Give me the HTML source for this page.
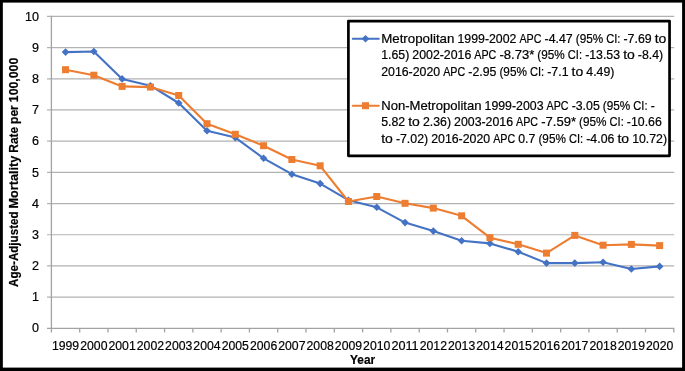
<!DOCTYPE html>
<html lang="en"><head><meta charset="utf-8"><title>Age-Adjusted Mortality Rate per 100,000 by Year</title>
<style>html,body{margin:0;padding:0;background:#fff}svg{display:block}text{stroke:#000;stroke-width:0.2px}</style></head>
<body>
<svg width="685" height="371" viewBox="0 0 685 371" font-family="'Liberation Sans', sans-serif" font-size="12.4" fill="#000">
<rect x="0" y="0" width="685" height="371" fill="#fff"/>
<line x1="47.00" y1="297.11" x2="674.20" y2="297.11" stroke="#b2b2b2" stroke-width="1.2"/>
<line x1="47.00" y1="265.92" x2="674.20" y2="265.92" stroke="#b2b2b2" stroke-width="1.2"/>
<line x1="47.00" y1="234.73" x2="674.20" y2="234.73" stroke="#b2b2b2" stroke-width="1.2"/>
<line x1="47.00" y1="203.54" x2="674.20" y2="203.54" stroke="#b2b2b2" stroke-width="1.2"/>
<line x1="47.00" y1="172.35" x2="674.20" y2="172.35" stroke="#b2b2b2" stroke-width="1.2"/>
<line x1="47.00" y1="141.16" x2="674.20" y2="141.16" stroke="#b2b2b2" stroke-width="1.2"/>
<line x1="47.00" y1="109.97" x2="674.20" y2="109.97" stroke="#b2b2b2" stroke-width="1.2"/>
<line x1="47.00" y1="78.78" x2="674.20" y2="78.78" stroke="#b2b2b2" stroke-width="1.2"/>
<line x1="47.00" y1="47.59" x2="674.20" y2="47.59" stroke="#b2b2b2" stroke-width="1.2"/>
<line x1="47.00" y1="16.40" x2="674.20" y2="16.40" stroke="#b2b2b2" stroke-width="1.2"/>
<line x1="47" y1="328.30" x2="674.2" y2="328.30" stroke="#a2a2a2" stroke-width="1.3"/>
<line x1="51.40" y1="15.80" x2="51.40" y2="332.4" stroke="#a2a2a2" stroke-width="1.3"/>
<line x1="79.69" y1="328.30" x2="79.69" y2="332.4" stroke="#a2a2a2" stroke-width="1.3"/>
<line x1="107.98" y1="328.30" x2="107.98" y2="332.4" stroke="#a2a2a2" stroke-width="1.3"/>
<line x1="136.27" y1="328.30" x2="136.27" y2="332.4" stroke="#a2a2a2" stroke-width="1.3"/>
<line x1="164.56" y1="328.30" x2="164.56" y2="332.4" stroke="#a2a2a2" stroke-width="1.3"/>
<line x1="192.85" y1="328.30" x2="192.85" y2="332.4" stroke="#a2a2a2" stroke-width="1.3"/>
<line x1="221.15" y1="328.30" x2="221.15" y2="332.4" stroke="#a2a2a2" stroke-width="1.3"/>
<line x1="249.44" y1="328.30" x2="249.44" y2="332.4" stroke="#a2a2a2" stroke-width="1.3"/>
<line x1="277.73" y1="328.30" x2="277.73" y2="332.4" stroke="#a2a2a2" stroke-width="1.3"/>
<line x1="306.02" y1="328.30" x2="306.02" y2="332.4" stroke="#a2a2a2" stroke-width="1.3"/>
<line x1="334.31" y1="328.30" x2="334.31" y2="332.4" stroke="#a2a2a2" stroke-width="1.3"/>
<line x1="362.60" y1="328.30" x2="362.60" y2="332.4" stroke="#a2a2a2" stroke-width="1.3"/>
<line x1="390.89" y1="328.30" x2="390.89" y2="332.4" stroke="#a2a2a2" stroke-width="1.3"/>
<line x1="419.18" y1="328.30" x2="419.18" y2="332.4" stroke="#a2a2a2" stroke-width="1.3"/>
<line x1="447.47" y1="328.30" x2="447.47" y2="332.4" stroke="#a2a2a2" stroke-width="1.3"/>
<line x1="475.76" y1="328.30" x2="475.76" y2="332.4" stroke="#a2a2a2" stroke-width="1.3"/>
<line x1="504.05" y1="328.30" x2="504.05" y2="332.4" stroke="#a2a2a2" stroke-width="1.3"/>
<line x1="532.35" y1="328.30" x2="532.35" y2="332.4" stroke="#a2a2a2" stroke-width="1.3"/>
<line x1="560.64" y1="328.30" x2="560.64" y2="332.4" stroke="#a2a2a2" stroke-width="1.3"/>
<line x1="588.93" y1="328.30" x2="588.93" y2="332.4" stroke="#a2a2a2" stroke-width="1.3"/>
<line x1="617.22" y1="328.30" x2="617.22" y2="332.4" stroke="#a2a2a2" stroke-width="1.3"/>
<line x1="645.51" y1="328.30" x2="645.51" y2="332.4" stroke="#a2a2a2" stroke-width="1.3"/>
<line x1="673.80" y1="328.30" x2="673.80" y2="332.4" stroke="#a2a2a2" stroke-width="1.3"/>
<polyline points="65.55,52.10 93.84,51.50 122.13,78.90 150.42,85.70 178.71,103.00 207.00,130.70 235.29,137.60 263.58,158.30 291.87,174.20 320.16,183.60 348.45,200.20 376.75,207.30 405.04,222.60 433.33,231.10 461.62,240.80 489.91,243.40 518.20,251.70 546.49,263.10 574.78,263.10 603.07,262.30 631.36,269.00 659.65,266.40" fill="none" stroke="#4472C4" stroke-width="2.1" stroke-linejoin="round" stroke-linecap="round"/>
<polygon points="65.55,48.30 69.35,52.10 65.55,55.90 61.75,52.10" fill="#4472C4"/>
<polygon points="93.84,47.70 97.64,51.50 93.84,55.30 90.04,51.50" fill="#4472C4"/>
<polygon points="122.13,75.10 125.93,78.90 122.13,82.70 118.33,78.90" fill="#4472C4"/>
<polygon points="150.42,81.90 154.22,85.70 150.42,89.50 146.62,85.70" fill="#4472C4"/>
<polygon points="178.71,99.20 182.51,103.00 178.71,106.80 174.91,103.00" fill="#4472C4"/>
<polygon points="207.00,126.90 210.80,130.70 207.00,134.50 203.20,130.70" fill="#4472C4"/>
<polygon points="235.29,133.80 239.09,137.60 235.29,141.40 231.49,137.60" fill="#4472C4"/>
<polygon points="263.58,154.50 267.38,158.30 263.58,162.10 259.78,158.30" fill="#4472C4"/>
<polygon points="291.87,170.40 295.67,174.20 291.87,178.00 288.07,174.20" fill="#4472C4"/>
<polygon points="320.16,179.80 323.96,183.60 320.16,187.40 316.36,183.60" fill="#4472C4"/>
<polygon points="348.45,196.40 352.25,200.20 348.45,204.00 344.65,200.20" fill="#4472C4"/>
<polygon points="376.75,203.50 380.55,207.30 376.75,211.10 372.95,207.30" fill="#4472C4"/>
<polygon points="405.04,218.80 408.84,222.60 405.04,226.40 401.24,222.60" fill="#4472C4"/>
<polygon points="433.33,227.30 437.13,231.10 433.33,234.90 429.53,231.10" fill="#4472C4"/>
<polygon points="461.62,237.00 465.42,240.80 461.62,244.60 457.82,240.80" fill="#4472C4"/>
<polygon points="489.91,239.60 493.71,243.40 489.91,247.20 486.11,243.40" fill="#4472C4"/>
<polygon points="518.20,247.90 522.00,251.70 518.20,255.50 514.40,251.70" fill="#4472C4"/>
<polygon points="546.49,259.30 550.29,263.10 546.49,266.90 542.69,263.10" fill="#4472C4"/>
<polygon points="574.78,259.30 578.58,263.10 574.78,266.90 570.98,263.10" fill="#4472C4"/>
<polygon points="603.07,258.50 606.87,262.30 603.07,266.10 599.27,262.30" fill="#4472C4"/>
<polygon points="631.36,265.20 635.16,269.00 631.36,272.80 627.56,269.00" fill="#4472C4"/>
<polygon points="659.65,262.60 663.45,266.40 659.65,270.20 655.85,266.40" fill="#4472C4"/>
<polyline points="65.55,69.70 93.84,75.20 122.13,86.40 150.42,87.10 178.71,95.50 207.00,123.70 235.29,134.30 263.58,145.70 291.87,159.50 320.16,165.80 348.45,201.50 376.75,196.50 405.04,203.30 433.33,208.10 461.62,215.80 489.91,237.70 518.20,244.30 546.49,253.10 574.78,235.40 603.07,245.20 631.36,244.40 659.65,245.60" fill="none" stroke="#ED7D31" stroke-width="2.1" stroke-linejoin="round" stroke-linecap="round"/>
<rect x="62.05" y="66.20" width="7.00" height="7.00" fill="#ED7D31"/>
<rect x="90.34" y="71.70" width="7.00" height="7.00" fill="#ED7D31"/>
<rect x="118.63" y="82.90" width="7.00" height="7.00" fill="#ED7D31"/>
<rect x="146.92" y="83.60" width="7.00" height="7.00" fill="#ED7D31"/>
<rect x="175.21" y="92.00" width="7.00" height="7.00" fill="#ED7D31"/>
<rect x="203.50" y="120.20" width="7.00" height="7.00" fill="#ED7D31"/>
<rect x="231.79" y="130.80" width="7.00" height="7.00" fill="#ED7D31"/>
<rect x="260.08" y="142.20" width="7.00" height="7.00" fill="#ED7D31"/>
<rect x="288.37" y="156.00" width="7.00" height="7.00" fill="#ED7D31"/>
<rect x="316.66" y="162.30" width="7.00" height="7.00" fill="#ED7D31"/>
<rect x="344.95" y="198.00" width="7.00" height="7.00" fill="#ED7D31"/>
<rect x="373.25" y="193.00" width="7.00" height="7.00" fill="#ED7D31"/>
<rect x="401.54" y="199.80" width="7.00" height="7.00" fill="#ED7D31"/>
<rect x="429.83" y="204.60" width="7.00" height="7.00" fill="#ED7D31"/>
<rect x="458.12" y="212.30" width="7.00" height="7.00" fill="#ED7D31"/>
<rect x="486.41" y="234.20" width="7.00" height="7.00" fill="#ED7D31"/>
<rect x="514.70" y="240.80" width="7.00" height="7.00" fill="#ED7D31"/>
<rect x="542.99" y="249.60" width="7.00" height="7.00" fill="#ED7D31"/>
<rect x="571.28" y="231.90" width="7.00" height="7.00" fill="#ED7D31"/>
<rect x="599.57" y="241.70" width="7.00" height="7.00" fill="#ED7D31"/>
<rect x="627.86" y="240.90" width="7.00" height="7.00" fill="#ED7D31"/>
<rect x="656.15" y="242.10" width="7.00" height="7.00" fill="#ED7D31"/>
<text x="32.01" y="332.00" font-size="12.8" textLength="6.99" lengthAdjust="spacingAndGlyphs">0</text>
<text x="32.01" y="301.00" font-size="12.8" textLength="6.99" lengthAdjust="spacingAndGlyphs">1</text>
<text x="32.01" y="270.00" font-size="12.8" textLength="6.99" lengthAdjust="spacingAndGlyphs">2</text>
<text x="32.01" y="239.00" font-size="12.8" textLength="6.99" lengthAdjust="spacingAndGlyphs">3</text>
<text x="32.01" y="208.00" font-size="12.8" textLength="6.99" lengthAdjust="spacingAndGlyphs">4</text>
<text x="32.01" y="177.00" font-size="12.8" textLength="6.99" lengthAdjust="spacingAndGlyphs">5</text>
<text x="32.01" y="145.00" font-size="12.8" textLength="6.99" lengthAdjust="spacingAndGlyphs">6</text>
<text x="32.01" y="114.00" font-size="12.8" textLength="6.99" lengthAdjust="spacingAndGlyphs">7</text>
<text x="32.01" y="83.00" font-size="12.8" textLength="6.99" lengthAdjust="spacingAndGlyphs">8</text>
<text x="32.01" y="52.00" font-size="12.8" textLength="6.99" lengthAdjust="spacingAndGlyphs">9</text>
<text x="25.01" y="21.00" font-size="12.8" textLength="13.99" lengthAdjust="spacingAndGlyphs">10</text>
<text x="51.91" y="349.9" font-size="13.2" textLength="27.27" lengthAdjust="spacingAndGlyphs">1999</text>
<text x="80.20" y="349.9" font-size="13.2" textLength="27.27" lengthAdjust="spacingAndGlyphs">2000</text>
<text x="108.49" y="349.9" font-size="13.2" textLength="27.27" lengthAdjust="spacingAndGlyphs">2001</text>
<text x="136.78" y="349.9" font-size="13.2" textLength="27.27" lengthAdjust="spacingAndGlyphs">2002</text>
<text x="165.08" y="349.9" font-size="13.2" textLength="27.27" lengthAdjust="spacingAndGlyphs">2003</text>
<text x="193.37" y="349.9" font-size="13.2" textLength="27.27" lengthAdjust="spacingAndGlyphs">2004</text>
<text x="221.66" y="349.9" font-size="13.2" textLength="27.27" lengthAdjust="spacingAndGlyphs">2005</text>
<text x="249.95" y="349.9" font-size="13.2" textLength="27.27" lengthAdjust="spacingAndGlyphs">2006</text>
<text x="278.24" y="349.9" font-size="13.2" textLength="27.27" lengthAdjust="spacingAndGlyphs">2007</text>
<text x="306.53" y="349.9" font-size="13.2" textLength="27.27" lengthAdjust="spacingAndGlyphs">2008</text>
<text x="334.82" y="349.9" font-size="13.2" textLength="27.27" lengthAdjust="spacingAndGlyphs">2009</text>
<text x="363.11" y="349.9" font-size="13.2" textLength="27.27" lengthAdjust="spacingAndGlyphs">2010</text>
<text x="391.40" y="349.9" font-size="13.2" textLength="27.27" lengthAdjust="spacingAndGlyphs">2011</text>
<text x="419.69" y="349.9" font-size="13.2" textLength="27.27" lengthAdjust="spacingAndGlyphs">2012</text>
<text x="447.98" y="349.9" font-size="13.2" textLength="27.27" lengthAdjust="spacingAndGlyphs">2013</text>
<text x="476.28" y="349.9" font-size="13.2" textLength="27.27" lengthAdjust="spacingAndGlyphs">2014</text>
<text x="504.57" y="349.9" font-size="13.2" textLength="27.27" lengthAdjust="spacingAndGlyphs">2015</text>
<text x="532.86" y="349.9" font-size="13.2" textLength="27.27" lengthAdjust="spacingAndGlyphs">2016</text>
<text x="561.15" y="349.9" font-size="13.2" textLength="27.27" lengthAdjust="spacingAndGlyphs">2017</text>
<text x="589.44" y="349.9" font-size="13.2" textLength="27.27" lengthAdjust="spacingAndGlyphs">2018</text>
<text x="617.73" y="349.9" font-size="13.2" textLength="27.27" lengthAdjust="spacingAndGlyphs">2019</text>
<text x="646.02" y="349.9" font-size="13.2" textLength="27.27" lengthAdjust="spacingAndGlyphs">2020</text>
<text x="350.06" y="363.5" font-weight="bold" font-size="12.8" textLength="25.09" lengthAdjust="spacingAndGlyphs">Year</text>
<g transform="translate(17.6 286.90) rotate(-90)" font-weight="bold" font-size="12.1">
<text x="0.00" y="0" textLength="75.45" lengthAdjust="spacingAndGlyphs">Age-Adjusted</text>
<text x="78.49" y="0" textLength="52.71" lengthAdjust="spacingAndGlyphs">Mortality</text>
<text x="134.24" y="0" textLength="25.65" lengthAdjust="spacingAndGlyphs">Rate</text>
<text x="162.93" y="0" textLength="18.77" lengthAdjust="spacingAndGlyphs">per</text>
<text x="184.74" y="0" textLength="44.37" lengthAdjust="spacingAndGlyphs">100,000</text>
</g>
<rect x="348.4" y="21.05" width="321.15" height="134.8" fill="#fff" stroke="#000" stroke-width="2.7" stroke-linejoin="round"/>
<line x1="352.8" y1="38.7" x2="378.8" y2="38.7" stroke="#4472C4" stroke-width="2.1" stroke-linecap="round"/>
<polygon points="365.50,34.90 369.30,38.70 365.50,42.50 361.70,38.70" fill="#4472C4"/>
<line x1="352.8" y1="105.7" x2="378.8" y2="105.7" stroke="#ED7D31" stroke-width="2.1" stroke-linecap="round"/>
<rect x="362.00" y="102.20" width="7.00" height="7.00" fill="#ED7D31"/>
<g>
<text x="381.20" y="43.00" textLength="73.20" lengthAdjust="spacingAndGlyphs">Metropolitan</text>
<text x="457.46" y="43.00" textLength="58.96" lengthAdjust="spacingAndGlyphs">1999-2002</text>
<text x="519.48" y="43.00" textLength="22.02" lengthAdjust="spacingAndGlyphs">APC</text>
<text x="544.55" y="43.00" textLength="28.11" lengthAdjust="spacingAndGlyphs">-4.47</text>
<text x="575.72" y="43.00" textLength="27.47" lengthAdjust="spacingAndGlyphs">(95%</text>
<text x="606.24" y="43.00" textLength="14.23" lengthAdjust="spacingAndGlyphs">CI:</text>
<text x="623.53" y="43.00" textLength="28.11" lengthAdjust="spacingAndGlyphs">-7.69</text>
<text x="654.70" y="43.00" textLength="11.66" lengthAdjust="spacingAndGlyphs">to</text>
</g>
<g>
<text x="381.20" y="59.00" textLength="28.07" lengthAdjust="spacingAndGlyphs">1.65)</text>
<text x="412.33" y="59.00" textLength="58.96" lengthAdjust="spacingAndGlyphs">2002-2016</text>
<text x="474.34" y="59.00" textLength="22.02" lengthAdjust="spacingAndGlyphs">APC</text>
<text x="499.41" y="59.00" textLength="34.84" lengthAdjust="spacingAndGlyphs">-8.73*</text>
<text x="537.31" y="59.00" textLength="27.47" lengthAdjust="spacingAndGlyphs">(95%</text>
<text x="567.84" y="59.00" textLength="14.23" lengthAdjust="spacingAndGlyphs">CI:</text>
<text x="585.13" y="59.00" textLength="34.96" lengthAdjust="spacingAndGlyphs">-13.53</text>
<text x="623.15" y="59.00" textLength="11.66" lengthAdjust="spacingAndGlyphs">to</text>
<text x="637.86" y="59.00" textLength="25.36" lengthAdjust="spacingAndGlyphs">-8.4)</text>
</g>
<g>
<text x="381.20" y="76.00" textLength="58.96" lengthAdjust="spacingAndGlyphs">2016-2020</text>
<text x="443.22" y="76.00" textLength="22.02" lengthAdjust="spacingAndGlyphs">APC</text>
<text x="468.29" y="76.00" textLength="28.11" lengthAdjust="spacingAndGlyphs">-2.95</text>
<text x="499.45" y="76.00" textLength="27.47" lengthAdjust="spacingAndGlyphs">(95%</text>
<text x="529.98" y="76.00" textLength="14.23" lengthAdjust="spacingAndGlyphs">CI:</text>
<text x="547.27" y="76.00" textLength="21.26" lengthAdjust="spacingAndGlyphs">-7.1</text>
<text x="571.58" y="76.00" textLength="11.66" lengthAdjust="spacingAndGlyphs">to</text>
<text x="586.30" y="76.00" textLength="28.07" lengthAdjust="spacingAndGlyphs">4.49)</text>
</g>
<g>
<text x="381.20" y="110.00" textLength="100.30" lengthAdjust="spacingAndGlyphs">Non-Metropolitan</text>
<text x="484.56" y="110.00" textLength="58.96" lengthAdjust="spacingAndGlyphs">1999-2003</text>
<text x="546.58" y="110.00" textLength="22.02" lengthAdjust="spacingAndGlyphs">APC</text>
<text x="571.65" y="110.00" textLength="28.11" lengthAdjust="spacingAndGlyphs">-3.05</text>
<text x="602.81" y="110.00" textLength="27.47" lengthAdjust="spacingAndGlyphs">(95%</text>
<text x="633.34" y="110.00" textLength="14.23" lengthAdjust="spacingAndGlyphs">CI:</text>
<text x="650.63" y="110.00" textLength="4.14" lengthAdjust="spacingAndGlyphs">-</text>
</g>
<g>
<text x="381.20" y="126.00" textLength="23.97" lengthAdjust="spacingAndGlyphs">5.82</text>
<text x="408.23" y="126.00" textLength="11.66" lengthAdjust="spacingAndGlyphs">to</text>
<text x="422.94" y="126.00" textLength="28.07" lengthAdjust="spacingAndGlyphs">2.36)</text>
<text x="454.07" y="126.00" textLength="58.96" lengthAdjust="spacingAndGlyphs">2003-2016</text>
<text x="516.08" y="126.00" textLength="22.02" lengthAdjust="spacingAndGlyphs">APC</text>
<text x="541.16" y="126.00" textLength="34.84" lengthAdjust="spacingAndGlyphs">-7.59*</text>
<text x="579.06" y="126.00" textLength="27.47" lengthAdjust="spacingAndGlyphs">(95%</text>
<text x="609.58" y="126.00" textLength="14.23" lengthAdjust="spacingAndGlyphs">CI:</text>
<text x="626.87" y="126.00" textLength="34.96" lengthAdjust="spacingAndGlyphs">-10.66</text>
</g>
<g>
<text x="381.20" y="143.00" textLength="11.66" lengthAdjust="spacingAndGlyphs">to</text>
<text x="395.91" y="143.00" textLength="32.21" lengthAdjust="spacingAndGlyphs">-7.02)</text>
<text x="431.18" y="143.00" textLength="58.96" lengthAdjust="spacingAndGlyphs">2016-2020</text>
<text x="493.20" y="143.00" textLength="22.02" lengthAdjust="spacingAndGlyphs">APC</text>
<text x="518.27" y="143.00" textLength="17.12" lengthAdjust="spacingAndGlyphs">0.7</text>
<text x="538.44" y="143.00" textLength="27.47" lengthAdjust="spacingAndGlyphs">(95%</text>
<text x="568.97" y="143.00" textLength="14.23" lengthAdjust="spacingAndGlyphs">CI:</text>
<text x="586.26" y="143.00" textLength="28.11" lengthAdjust="spacingAndGlyphs">-4.06</text>
<text x="617.42" y="143.00" textLength="11.66" lengthAdjust="spacingAndGlyphs">to</text>
<text x="632.14" y="143.00" textLength="34.92" lengthAdjust="spacingAndGlyphs">10.72)</text>
</g>
<rect x="0" y="0" width="685" height="2.6" fill="#000"/>
<rect x="0" y="0" width="2.85" height="371" fill="#000"/>
<rect x="682.1" y="0" width="2.9" height="371" fill="#000"/>
<rect x="0" y="367.6" width="685" height="3.4" fill="#000"/>
</svg>
</body></html>
